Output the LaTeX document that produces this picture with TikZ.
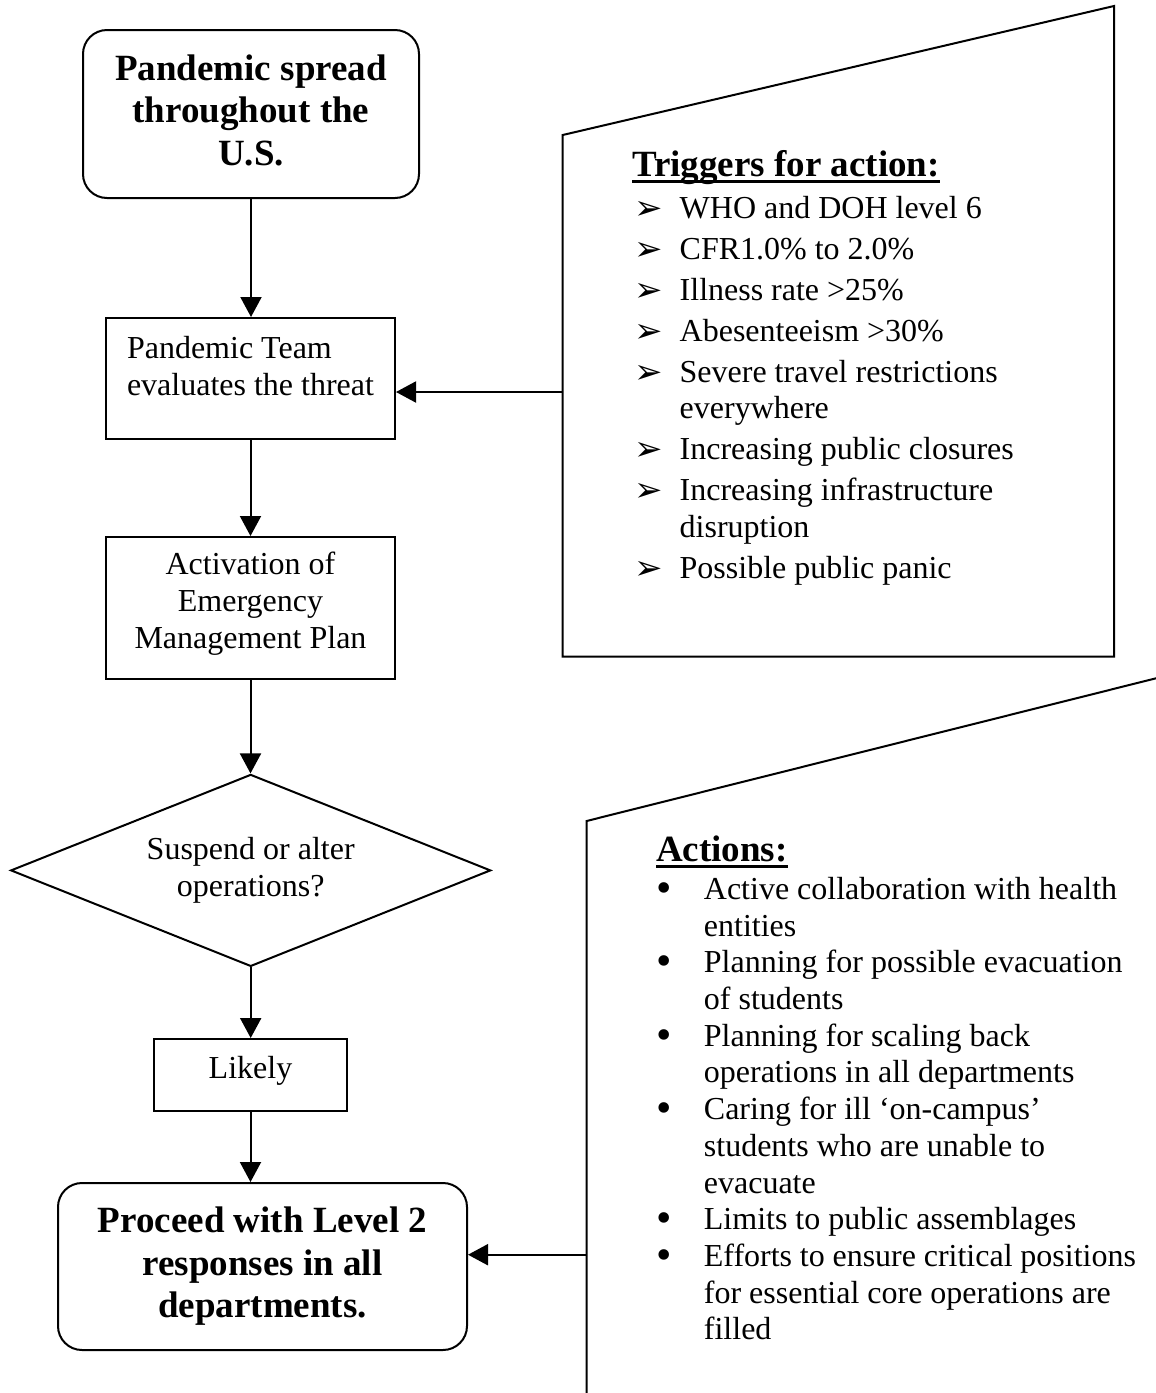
\documentclass[tikz,border=0pt]{standalone}
\usepackage{fontspec}
\setmainfont{Liberation Serif}
\newfontfamily\dingfont{DejaVu Sans}
\usetikzlibrary{arrows.meta,shapes.geometric}

% type sizes (1pt = one unit of the drawing)
\newcommand\bodysize{\fontsize{32}{36.8}\selectfont}
\newcommand\headsize{\fontsize{37}{42.5}\selectfont\bfseries}

% heading with a heavy underline that crosses the descenders
\newsavebox\ulbox
\newcommand\ulhead[1]{\sbox\ulbox{#1}\rlap{\rule[-7pt]{\wd\ulbox}{3pt}}\usebox\ulbox}

% list markers hung to the left of the item text
\newcommand\trig{\leavevmode\llap{\makebox[45.5pt][l]{\raisebox{-1pt}{\dingfont\fontsize{34}{34}\selectfont ➢}}}}
\newcommand\bul{\leavevmode\llap{\makebox[47.9pt][l]{\raisebox{-3pt}{\fontsize{44}{44}\selectfont •}}}}
% plain ragged-right setting with the font's own word spaces
\newcommand\listsetup[1]{\parindent=0pt\leftskip=#1\rightskip=0pt plus 1fil
  \parfillskip=0pt plus 1fil\spaceskip=0pt\xspaceskip=0pt\relax}

\begin{document}
\begin{tikzpicture}[x=1pt,y=-1pt,
  flow/.style={draw, line width=2pt, inner sep=0pt, align=center, font=\bodysize},
  head/.style={font=\headsize},
  arrowline/.style={line width=2pt, -{Triangle[length=20pt,width=21pt]}},
  panel/.style={line width=2pt, line join=miter},
  listtext/.style={text width=480pt, align=left, inner sep=0pt, font=\bodysize, anchor=base west}]

\useasboundingbox (0,0) rectangle (1156,1393);
\clip (0,0) rectangle (1156,1393);

% ---- main flow ----
\node[flow, head, rounded corners=24pt, minimum width=336pt, minimum height=168pt]
  (spread) at (251,114) {Pandemic spread\\throughout the\\U.S.\rule[-8pt]{0pt}{8pt}};

\node[flow, align=left, minimum width=289pt, minimum height=121pt]
  (team) at (250.5,378.5) {Pandemic Team\\evaluates the threat\rule[-26pt]{0pt}{26pt}};

\node[flow, minimum width=289pt, minimum height=142pt]
  (plan) at (250.5,608) {Activation of\\Emergency\\Management Plan\rule[-15pt]{0pt}{15pt}};

\node[flow, diamond, aspect=2.5, minimum width=480pt, minimum height=192pt]
  (choice) at (250.7,870.4) {Suspend or alter\\operations?};

\node[flow, minimum width=193pt, minimum height=72pt, text height=22pt, text depth=16pt]
  (likely) at (250.5,1075) {Likely};

\node[flow, head, rounded corners=24pt, minimum width=409pt, minimum height=167pt]
  (proceed) at (262.5,1266.5) {Proceed with Level 2\\responses in all\\departments.};

\draw[arrowline] (spread.south) -- (spread.south |- team.north);
\draw[arrowline] (team.south) -- (plan.north);
\draw[arrowline] (plan.south) -- (plan.south |- choice.north);
\draw[arrowline] (choice.south) -- (choice.south |- likely.north);
\draw[arrowline] (likely.south) -- (likely.south |- proceed.north);

% ---- triggers panel ----
\draw[panel] (562.7,135) -- (1114,6) -- (1114,656.5) -- (562.7,656.5) -- cycle;
\coordinate (trigtap) at (562.7,392);
\draw[arrowline] (trigtap) -- (team.east |- trigtap);

\node[listtext] (triggers) at (632,176) {%
  \listsetup{47.5pt}%
  \hspace*{-47.5pt}{\headsize\ulhead{Triggers for action:}}\\[5.2pt]
  \trig WHO and DOH level 6\\[4.2pt]
  \trig CFR1.0\% to 2.0\%\\[4.2pt]
  \trig Illness rate >25\%\\[4.2pt]
  \trig Abesenteeism >30\%\\[4.2pt]
  \trig Severe travel restrictions\\
  everywhere\\[4.2pt]
  \trig Increasing public closures\\[4.2pt]
  \trig Increasing infrastructure\\
  disruption\\[4.2pt]
  \trig Possible public panic\par};

% ---- actions panel ----
\draw[panel] (1160,677.3) -- (586.6,821) -- (586.6,1400);
\coordinate (acttap) at (586.6,1254.7);
\draw[arrowline] (acttap) -- (proceed.east |- acttap);

\node[listtext] (actions) at (655.8,861) {%
  \fontsize{32}{36.7}\selectfont\listsetup{47.9pt}%
  \hspace*{-47.9pt}{\headsize\ulhead{Actions:}}\\[1.7pt]
  \bul Active collaboration with health\\
  entities\\
  \bul Planning for possible evacuation\\
  of students\\
  \bul Planning for scaling back\\
  operations in all departments\\
  \bul Caring for ill ‘on-campus’\\
  students who are unable to\\
  evacuate\\
  \bul Limits to public assemblages\\
  \bul Efforts to ensure critical positions\\
  for essential core operations are\\
  filled\par};

\end{tikzpicture}
\end{document}
